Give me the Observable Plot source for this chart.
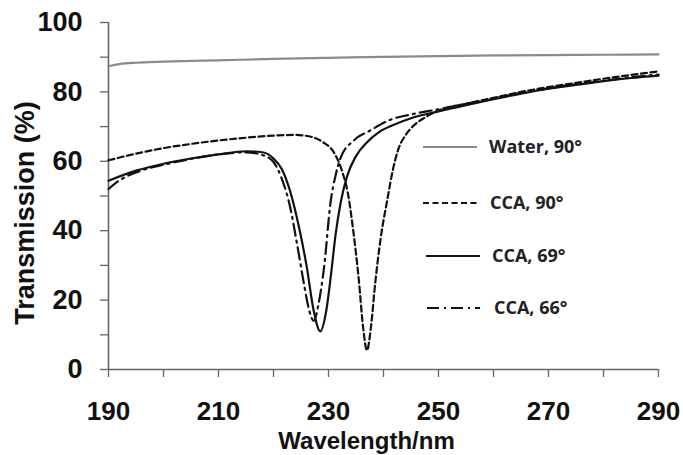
<!DOCTYPE html>
<html>
<head>
<meta charset="utf-8">
<script src="https://cdn.jsdelivr.net/npm/d3@7"></script>
<script src="https://cdn.jsdelivr.net/npm/@observablehq/plot@0.6"></script>
<style>
  html, body { margin: 0; padding: 0; background: #fff; }
  #chart { width: 683px; height: 455px; }
</style>
</head>
<body>
<div id="chart"></div>
<script>
// ---- data ----
const waterWl = [190, 192, 195, 200, 210, 220, 230, 240, 250, 260, 270, 280, 290];
const waterT  = [87.4, 88.0, 88.4, 88.7, 89.1, 89.5, 89.8, 90.1, 90.3, 90.5, 90.6, 90.7, 90.8];

const cca90Wl = [190, 195, 200, 205, 210, 215, 220, 224, 227, 229, 231, 232.5, 233.5, 234.5, 235.5, 236.3, 237, 237.7, 238.5, 239.5, 240.7, 241.7, 242.7, 244, 245.5, 247.5, 250, 255, 260, 265, 270, 275, 280, 285, 290];
const cca90T  = [60.3, 62.2, 63.8, 65.0, 66.0, 66.8, 67.4, 67.6, 67.0, 65.5, 62.5, 57.0, 51.0, 40.0, 26.0, 12.0, 5.5, 12.0, 25.0, 38.0, 49.0, 57.5, 63.5, 67.5, 70.3, 72.6, 74.6, 76.6, 78.3, 80.0, 81.4, 82.6, 83.8, 84.9, 85.9];

const cca69Wl = [190, 195, 200, 205, 210, 215, 218, 220, 221.5, 223, 224.5, 226, 227.3, 228.5, 229.6, 230.5, 231.3, 232.2, 233.4, 235, 237, 239, 242, 245, 250, 255, 260, 265, 270, 275, 280, 285, 290];
const cca69T  = [54.4, 57.3, 59.3, 60.8, 62.0, 62.9, 62.6, 60.8, 57.8, 51.5, 42.0, 30.0, 17.0, 11.0, 17.0, 28.0, 39.0, 48.0, 55.8, 61.5, 65.5, 68.2, 70.6, 72.4, 74.4, 76.2, 77.9, 79.5, 80.9, 82.0, 83.1, 84.0, 84.7];

const cca66Wl = [190, 192, 195, 200, 205, 210, 215, 218, 220, 221.5, 223, 224.3, 225.5, 226.5, 227.3, 228.2, 229.2, 230.4, 231.3, 232.2, 234.6, 237.6, 241.3, 245, 250, 255, 260, 265, 270, 275, 280, 285, 290];
const cca66T  = [52.0, 54.5, 56.8, 59.0, 60.7, 62.0, 62.6, 61.8, 59.8, 55.0, 47.0, 36.0, 25.0, 17.0, 14.0, 19.0, 29.5, 48.5, 56.0, 61.0, 66.0, 68.9, 72.0, 73.5, 75.0, 76.6, 78.1, 79.7, 81.0, 82.2, 83.2, 84.2, 85.0];

const seriesNames = ["Water, 90°", "CCA, 90°", "CCA, 69°", "CCA, 66°"];

const xTicks = [190, 200, 210, 220, 230, 240, 250, 260, 270, 280, 290];
const xTickLabels = [190, 210, 230, 250, 270, 290];
const yTicks = [0, 10, 20, 30, 40, 50, 60, 70, 80, 90, 100];
const yTickLabels = [0, 20, 40, 60, 80, 100];

const xTitle = "Wavelength/nm";
const yTitle = "Transmission (%)";

// ---- build tables ----
const toRows = (wl, t) => wl.map((w, i) => ({wl: w, t: t[i]}));
const water = toRows(waterWl, waterT);
const cca90 = toRows(cca90Wl, cca90T);
const cca69 = toRows(cca69Wl, cca69T);
const cca66 = toRows(cca66Wl, cca66T);

const styles = [
  {stroke: "#8a8a8a", strokeWidth: 2.2, dash: null},
  {stroke: "#111", strokeWidth: 2.2, dash: "6,3.5"},
  {stroke: "#111", strokeWidth: 2.2, dash: null},
  {stroke: "#111", strokeWidth: 2.2, dash: "12,5,2,5"}
];

const tickFont = {fontSize: 27, fontWeight: "bold", fontFamily: "Liberation Sans, Arial, sans-serif"};

const plot = Plot.plot({
  width: 683,
  height: 455,
  marginLeft: 108,
  marginRight: 25,
  marginTop: 22,
  marginBottom: 86,
  style: {fontFamily: "Liberation Sans, Arial, sans-serif", background: "#fff", overflow: "visible"},
  x: {domain: [190, 290]},
  y: {domain: [0, 100]},
  marks: [
    Plot.axisX({ticks: xTicks, tickFormat: d => xTickLabels.includes(d) ? String(d) : "", tickSize: 8, tickPadding: 24,
      stroke: "#666", strokeWidth: 1.3, fill: "#111", label: null, ...tickFont, fontSize: 26}),
    Plot.axisY({ticks: yTicks, tickFormat: d => yTickLabels.includes(d) ? String(d) : "", tickSize: 8, tickPadding: 18,
      stroke: "#666", strokeWidth: 1.3, fill: "#111", label: null, ...tickFont}),
    Plot.ruleX([190], {stroke: "#666", strokeWidth: 1.6}),
    Plot.ruleY([0], {stroke: "#666", strokeWidth: 1.6}),
    Plot.line(water, {x: "wl", y: "t", curve: "monotone-x", stroke: styles[0].stroke, strokeWidth: styles[0].strokeWidth}),
    Plot.line(cca90, {x: "wl", y: "t", curve: "monotone-x", stroke: styles[1].stroke, strokeWidth: styles[1].strokeWidth, strokeDasharray: styles[1].dash}),
    Plot.line(cca69, {x: "wl", y: "t", curve: "monotone-x", stroke: styles[2].stroke, strokeWidth: styles[2].strokeWidth}),
    Plot.line(cca66, {x: "wl", y: "t", curve: "monotone-x", stroke: styles[3].stroke, strokeWidth: styles[3].strokeWidth, strokeDasharray: styles[3].dash}),
    Plot.text([xTitle], {frameAnchor: "bottom", textAnchor: "middle", lineAnchor: "middle", dy: 72, dx: -17, fill: "#111", ...tickFont, fontSize: 24}),
    Plot.text([yTitle], {frameAnchor: "left", textAnchor: "middle", lineAnchor: "middle", rotate: -90, dx: -83, dy: 17, fill: "#111", ...tickFont})
  ]
});

document.getElementById("chart").appendChild(plot);

// ---- legend (inside the plot area) ----
const svg = d3.select(plot);
const legendRows = [
  {x1: 423, x2: 477, y: 147, tx: 489},
  {x1: 423, x2: 478, y: 203, tx: 490},
  {x1: 426, x2: 480, y: 256, tx: 492},
  {x1: 427, x2: 480, y: 308, tx: 494}
];
const lg = svg.append("g").attr("class", "legend").attr("text-anchor", "start");
seriesNames.forEach((name, i) => {
  const r = legendRows[i], s = styles[i];
  lg.append("line")
    .attr("x1", r.x1).attr("x2", r.x2).attr("y1", r.y).attr("y2", r.y)
    .attr("stroke", s.stroke).attr("stroke-width", s.strokeWidth)
    .attr("stroke-dasharray", s.dash);
  lg.append("text")
    .attr("x", r.tx).attr("y", r.y).attr("dy", "0.35em")
    .attr("text-anchor", "start")
    .attr("font-family", "Open Sans, sans-serif").attr("font-weight", 700)
    .attr("font-size", 18).attr("fill", "#222")
    .text(name);
});
</script>
</body>
</html>
